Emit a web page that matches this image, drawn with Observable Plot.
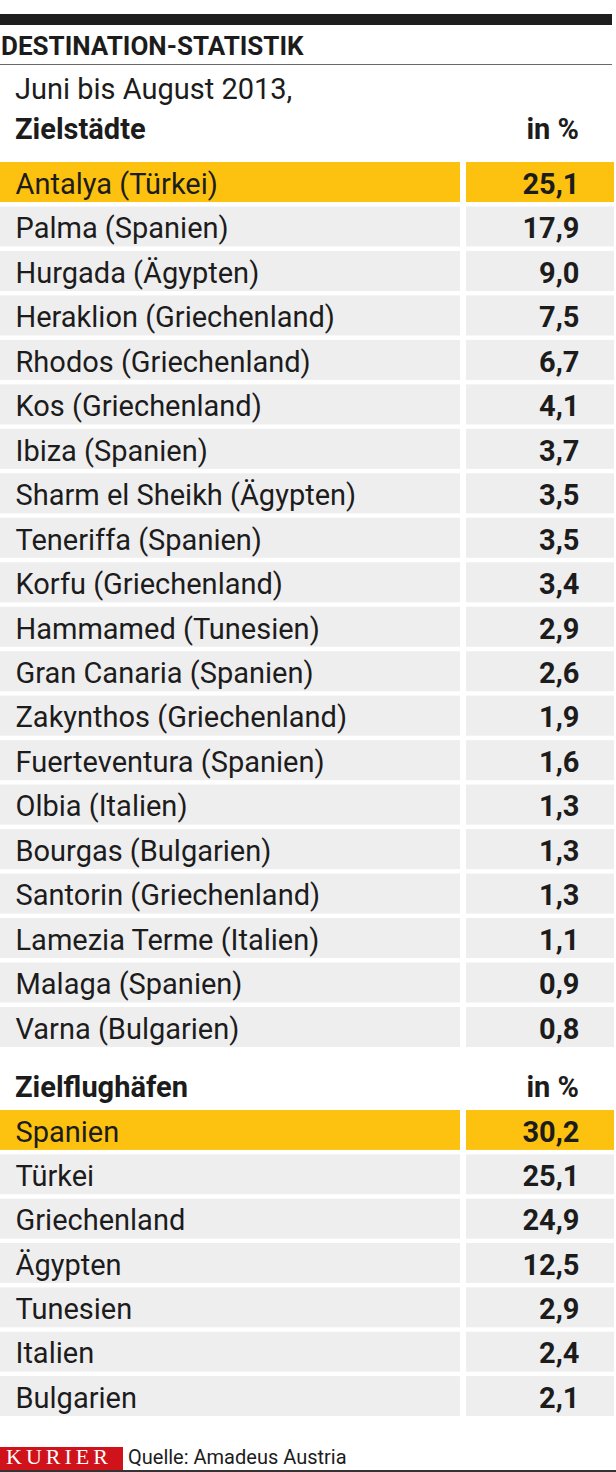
<!DOCTYPE html>
<html>
<head>
<meta charset="utf-8">
<script src="https://cdn.jsdelivr.net/npm/d3@7"></script>
<script src="https://cdn.jsdelivr.net/npm/@observablehq/plot@0.6"></script>
<style>
  html, body { margin: 0; padding: 0; background: #fff; }
  #wrap { position: relative; width: 616px; height: 1472px; overflow: hidden; font-family: Roboto, "Liberation Sans", sans-serif; color: #1c1c1c; }
  .abs { position: absolute; white-space: nowrap; line-height: 1; }
  #wrap svg text { font-family: Roboto, "Liberation Sans", sans-serif; }
</style>
</head>
<body>
<div id="wrap"></div>
<script>
// ---- data ----
const cities = [
  "Antalya (Türkei)", "Palma (Spanien)", "Hurgada (Ägypten)", "Heraklion (Griechenland)",
  "Rhodos (Griechenland)", "Kos (Griechenland)", "Ibiza (Spanien)", "Sharm el Sheikh (Ägypten)",
  "Teneriffa (Spanien)", "Korfu (Griechenland)", "Hammamed (Tunesien)", "Gran Canaria (Spanien)",
  "Zakynthos (Griechenland)", "Fuerteventura (Spanien)", "Olbia (Italien)", "Bourgas (Bulgarien)",
  "Santorin (Griechenland)", "Lamezia Terme (Italien)", "Malaga (Spanien)", "Varna (Bulgarien)"
];
const cityShares = [25.1, 17.9, 9.0, 7.5, 6.7, 4.1, 3.7, 3.5, 3.5, 3.4, 2.9, 2.6, 1.9, 1.6, 1.3, 1.3, 1.3, 1.1, 0.9, 0.8];
const countries = ["Spanien", "Türkei", "Griechenland", "Ägypten", "Tunesien", "Italien", "Bulgarien"];
const countryShares = [30.2, 25.1, 24.9, 12.5, 2.9, 2.4, 2.1];

const title = "DESTINATION-STATISTIK";
const subtitle = "Juni bis August 2013,";
const header1 = "Zielstädte";
const header2 = "Zielflughäfen";
const unitLabel = "in %";
const brand = "KURIER";
const source = "Quelle: Amadeus Austria";

// ---- layout / style ----
const W = 616;
const YELLOW = "#fdc20f";
const GRAY = "#efeeef";
const INK = "#1c1c1c";
const COL = { labelX1: 0, labelX2: 460, valueX1: 466, valueX2: 614, labelText: 15, valueText: 579 };
const FS = 29;
const fmt = v => v.toFixed(1).replace(".", ",");

const wrap = document.getElementById("wrap");
function addDiv(text, css) {
  const d = document.createElement("div");
  d.className = "abs";
  d.textContent = text;
  Object.assign(d.style, css);
  wrap.appendChild(d);
  return d;
}
function addBox(css) {
  const d = document.createElement("div");
  d.style.position = "absolute";
  Object.assign(d.style, css);
  wrap.appendChild(d);
}

function table(labels, values, h) {
  const rows = labels.map((label, i) => ({ label, value: values[i], hi: i === 0 }));
  const fill = d => d.hi ? YELLOW : GRAY;
  return Plot.plot({
    width: W, height: h, margin: 0,
    x: { domain: [0, W], range: [0, W], axis: null },
    y: { type: "band", domain: labels, paddingInner: 0.1, paddingOuter: 0, round: false, axis: null },
    marks: [
      Plot.barX(rows, { y: "label", x1: COL.labelX1, x2: COL.labelX2, fill }),
      Plot.barX(rows, { y: "label", x1: COL.valueX1, x2: COL.valueX2, fill }),
      Plot.text(rows, { y: "label", x: COL.labelText, text: "label", textAnchor: "start", fontSize: FS, fill: INK, dy: 2 }),
      Plot.text(rows, { y: "label", x: COL.valueText, text: d => fmt(d.value), textAnchor: "end", fontSize: FS, fontWeight: "bold", fill: INK, dy: 2 })
    ]
  });
}

// header
addBox({ left: "0px", top: "14px", width: "612px", height: "11px", background: "#1e1e1e" });
addDiv(title, { left: "1px", top: (55 - 0.842 * 26) + "px", fontSize: "26px", fontWeight: "bold" });
addBox({ left: "0px", top: "64px", width: "612px", height: "1px", background: "#6a6a6a" });
addDiv(subtitle, { left: "15px", top: (99 - 0.842 * FS) + "px", fontSize: FS + "px" });
addDiv(header1, { left: "15px", top: (139 - 0.842 * FS) + "px", fontSize: FS + "px", fontWeight: "bold" });
addDiv(unitLabel, { right: (W - 579) + "px", top: (139 - 0.842 * FS) + "px", fontSize: FS + "px", fontWeight: "bold" });

// table 1
const t1 = table(cities, cityShares, 885);
Object.assign(t1.style, { position: "absolute", left: "0px", top: "162px" });
wrap.appendChild(t1);

// section 2 header
addDiv(header2, { left: "15px", top: (1097 - 0.842 * FS) + "px", fontSize: FS + "px", fontWeight: "bold" });
addDiv(unitLabel, { right: (W - 579) + "px", top: (1097 - 0.842 * FS) + "px", fontSize: FS + "px", fontWeight: "bold" });

// table 2
const t2 = table(countries, countryShares, 306);
Object.assign(t2.style, { position: "absolute", left: "0px", top: "1110px" });
wrap.appendChild(t2);

// footer
addBox({ left: "0px", top: "1447px", width: "123px", height: "24px", background: "#d0121b" });
addDiv(brand, { left: "6px", top: (1466 - 0.891 * 22) + "px", fontSize: "22px", color: "#fff", fontFamily: "'Liberation Serif', serif", letterSpacing: "4px" });
addDiv(source, { left: "128px", top: (1464 - 0.842 * 20) + "px", fontSize: "20px" });
addBox({ left: "0px", top: "1470px", width: "616px", height: "2px", background: "#333" });
</script>
</body>
</html>
